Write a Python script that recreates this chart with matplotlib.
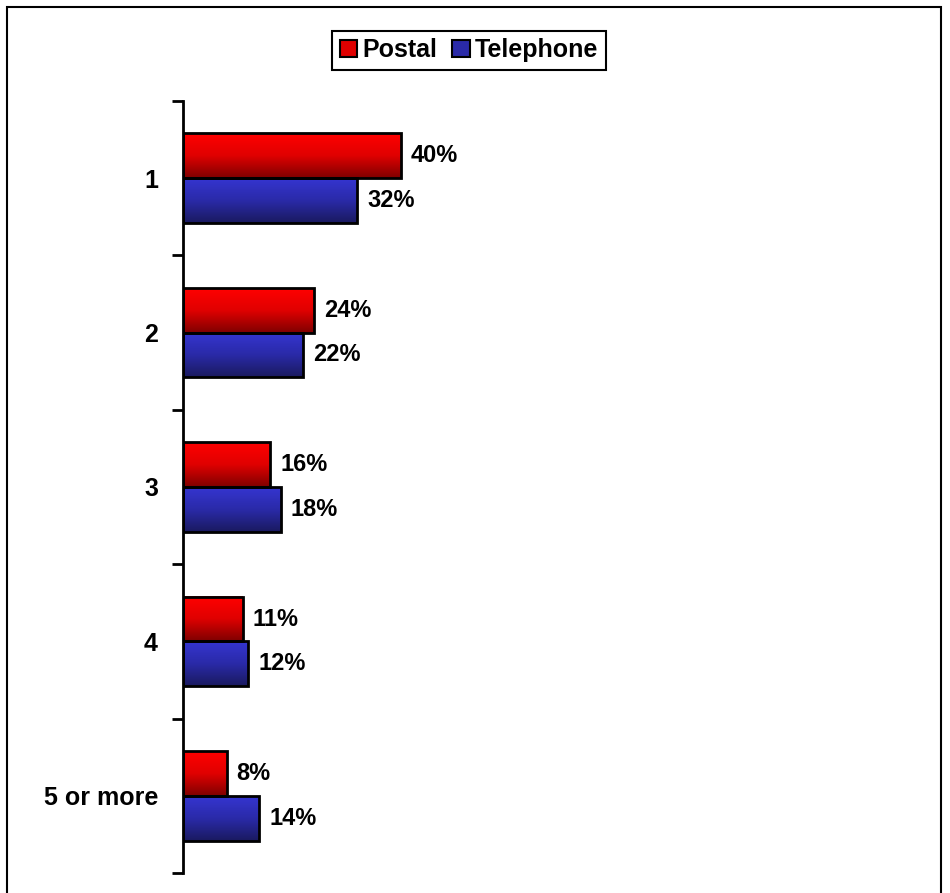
import numpy as np
import matplotlib
matplotlib.use("Agg")
import matplotlib.pyplot as plt
from matplotlib.patches import Rectangle
from matplotlib.colors import LinearSegmentedColormap

plt.rcParams['font.family'] = ['Liberation Sans', 'DejaVu Sans']

categories = ["1", "2", "3", "4", "5 or more"]
postal = [40, 24, 16, 11, 8]
telephone = [32, 22, 18, 12, 14]
series_names = ["Postal", "Telephone"]

W, H = 950, 893
fig = plt.figure(figsize=(W / 100, H / 100), dpi=100)
ax = fig.add_axes([183 / W, (H - 873) / H, (930 - 183) / W, (873 - 101) / H])

red_cmap = LinearSegmentedColormap.from_list("r", ["#FF0000", "#E00000", "#800000"])
blue_cmap = LinearSegmentedColormap.from_list("b", ["#3535D0", "#2A2AA8", "#1A1A60"])

n = len(categories)
ypos = np.arange(n)
h = 0.29

grad = np.linspace(0, 1, 64).reshape(-1, 1)
for vals, cmap, off in [(postal, red_cmap, -h / 2), (telephone, blue_cmap, h / 2)]:
    bars = ax.barh(ypos + off, vals, height=h, color='none', edgecolor='black',
                   linewidth=2, zorder=3)
    for b, v in zip(bars, vals):
        y0 = b.get_y()
        y1 = y0 + b.get_height()
        ax.imshow(grad, cmap=cmap, aspect='auto', extent=(0, v, y1, y0),
                  zorder=2, interpolation='bilinear')
        ax.text(v + 1.8, y0 + b.get_height() / 2, f"{v}%", va='center', ha='left',
                fontsize=17, fontweight='bold', zorder=4)

ax.set_xlim(0, 137)
ax.set_ylim(n - 0.5, -0.5)

for s in ['top', 'right', 'bottom']:
    ax.spines[s].set_visible(False)
ax.spines['left'].set_linewidth(2)
ax.set_xticks([])
ax.set_yticks(np.arange(-0.5, n, 1.0))
ax.set_yticklabels([])
ax.tick_params(axis='y', length=8, width=2, direction='out')
ax.set_yticks(ypos, minor=True)
ax.set_yticklabels(categories, minor=True, fontsize=18, fontweight='bold')
ax.tick_params(axis='y', which='minor', length=0, pad=18)

handles = [Rectangle((0, 0), 1, 1, facecolor='#E00000', edgecolor='black', linewidth=1.5),
           Rectangle((0, 0), 1, 1, facecolor='#2A2AA8', edgecolor='black', linewidth=1.5)]
leg = fig.legend(handles, series_names, loc='center', bbox_to_anchor=(469 / W, 1 - 50 / H),
                 ncol=2, frameon=True, fancybox=False, edgecolor='black', framealpha=1,
                 prop={'size': 18, 'weight': 'bold'}, handlelength=0.7, handleheight=0.7,
                 handletextpad=0.2, columnspacing=0.6, borderpad=0.3)
leg.get_frame().set_linewidth(1.5)

fig.patches.append(Rectangle((7 / W, -0.05), (941 - 7) / W, 1.05 - 7 / H,
                             transform=fig.transFigure, fill=False,
                             edgecolor='black', linewidth=1.5))

fig.savefig("out.png", dpi=100)
